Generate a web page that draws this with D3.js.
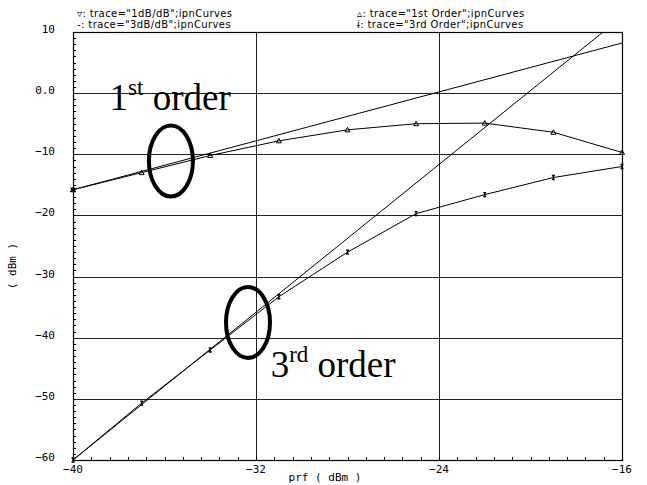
<!DOCTYPE html>
<html>
<head>
<meta charset="utf-8">
<script src="https://cdn.jsdelivr.net/npm/d3@7"></script>
<style>
  html, body { margin: 0; padding: 0; background: #fff; }
  svg { display: block; }
  .tick-label { font-family: "DejaVu Sans Mono", monospace; font-size: 11px; fill: #000; }
  .legend { font-family: "DejaVu Sans", sans-serif; font-size: 10px; letter-spacing: 0.4px; fill: #000; }
  .note { font-family: "Liberation Serif", "Times New Roman", serif; fill: #000; }
</style>
</head>
<body>
<svg id="chart" width="647" height="485"></svg>
<script>
// Input power sweep (dBm)
const prf = [-40, -37, -34, -31, -28, -25, -22, -19, -16];
// Fundamental (1st order) output power, dBm
const firstOrder = [-15.8, -13.0, -10.2, -7.8, -6.0, -5.0, -4.9, -6.4, -9.7];
// Third-order intermod output power, dBm
const thirdOrder = [-60.0, -50.7, -42.0, -33.3, -26.0, -19.7, -16.6, -13.8, -12.0];
// Extrapolated 1 dB/dB and 3 dB/dB lines (end points)
const lineX = [-40, -16];
const line1dB = [-15.8, 8.2];
const line3dB = [-60.0, 12.5];

const xTicks = [-40, -32, -24, -16];
const yTicks = [10, 0, -10, -20, -30, -40, -50, -60];
const yTickText = ["10", "0.0", "\u221210", "\u221220", "\u221230", "\u221240", "\u221250", "\u221260"];
const xTickText = ["\u221240", "\u221232", "\u221224", "\u221216"];

const legendItems = [
  { sym: "\u25BF", text: 'trace="1dB/dB";ipnCurves', col: 0, row: 0 },
  { sym: "-", text: 'trace="3dB/dB";ipnCurves', col: 0, row: 1 },
  { sym: "\u25B5", text: 'trace="1st Order";ipnCurves', col: 1, row: 0 },
  { sym: "\u0268", text: 'trace="3rd Order";ipnCurves', col: 1, row: 1 }
];

const svg = d3.select("#chart");
const pLeft = 73, pRight = 622, pTop = 32, pBottom = 460;
const x = d3.scaleLinear().domain([-40, -16]).range([pLeft, pRight]);
const y = d3.scaleLinear().domain([-60, 10]).range([pBottom, pTop]);

// clip region for the plot
svg.append("defs").append("clipPath").attr("id", "plotClip")
  .append("rect").attr("x", pLeft).attr("y", pTop)
  .attr("width", pRight - pLeft).attr("height", pBottom - pTop);

// grid lines
const grid = svg.append("g").attr("stroke", "#222").attr("stroke-width", 1);
yTicks.filter(v => v > -60 && v < 10).forEach(v => {
  grid.append("line").attr("x1", pLeft).attr("x2", pRight)
    .attr("y1", Math.round(y(v)) + 0.5).attr("y2", Math.round(y(v)) + 0.5);
});
xTicks.filter(v => v > -40 && v < -16).forEach(v => {
  grid.append("line").attr("y1", pTop).attr("y2", pBottom)
    .attr("x1", Math.round(x(v)) + 0.5).attr("x2", Math.round(x(v)) + 0.5);
});

// frame
svg.append("rect").attr("x", pLeft + 0.5).attr("y", pTop + 0.5)
  .attr("width", pRight - pLeft).attr("height", pBottom - pTop)
  .attr("fill", "none").attr("stroke", "#000").attr("stroke-width", 1.2);

// minor ticks (inside)
const minor = svg.append("g").attr("stroke", "#000").attr("stroke-width", 1);
d3.range(-60, 10.001, 1).forEach(v => {
  minor.append("line").attr("x1", pLeft).attr("x2", pLeft + 3)
    .attr("y1", Math.round(y(v)) + 0.5).attr("y2", Math.round(y(v)) + 0.5);
});
d3.range(-40, -15.99, 0.8).forEach(v => {
  minor.append("line").attr("y1", pBottom).attr("y2", pBottom - 3)
    .attr("x1", Math.round(x(v)) + 0.5).attr("x2", Math.round(x(v)) + 0.5);
});

// tick labels
svg.append("g").selectAll("text").data(yTicks).join("text")
  .attr("class", "tick-label")
  .attr("x", 55).attr("y", d => y(d) - 2)
  .attr("text-anchor", "end").attr("dominant-baseline", "middle")
  .text((d, i) => yTickText[i]);
svg.append("g").selectAll("text").data(xTicks).join("text")
  .attr("class", "tick-label")
  .attr("x", d => x(d)).attr("y", 473)
  .attr("text-anchor", "middle")
  .text((d, i) => xTickText[i]);

// axis titles
svg.append("text").attr("class", "tick-label").attr("font-size", 10)
  .attr("x", 325).attr("y", 481).attr("text-anchor", "middle")
  .text("prf ( dBm )");
svg.append("text").attr("class", "tick-label").attr("font-size", 10)
  .attr("transform", "translate(16,266) rotate(-90)")
  .attr("text-anchor", "middle").text("( dBm )");

// legend
const lg = svg.append("g");
legendItems.forEach(it => {
  lg.append("text").attr("class", "legend")
    .attr("x", it.col === 0 ? 77 : 357).attr("y", it.row === 0 ? 17 : 28)
    .text(it.sym + ": " + it.text);
});

// data lines
const plot = svg.append("g").attr("clip-path", "url(#plotClip)");
const line = d3.line().x(d => x(d[0])).y(d => y(d[1]));
const draw = (xs, ys) => plot.append("path")
  .attr("d", line(xs.map((v, i) => [v, ys[i]])))
  .attr("fill", "none").attr("stroke", "#000").attr("stroke-width", 1);
draw(lineX, line1dB);
draw(lineX, line3dB);
draw(prf, firstOrder);
draw(prf, thirdOrder);

// markers
const mk = svg.append("g").attr("fill", "none").attr("stroke", "#000").attr("stroke-width", 1);
prf.forEach((v, i) => {
  const px = x(v), py = y(firstOrder[i]);
  mk.append("path").attr("d", `M${px - 2.5},${py + 2}L${px},${py - 2.5}L${px + 2.5},${py + 2}Z`);
});
prf.forEach((v, i) => {
  const px = x(v), py = y(thirdOrder[i]);
  mk.append("path").attr("stroke-width", 1.4)
    .attr("d", `M${px},${py - 2.5}V${py + 2.5}M${px - 1.5},${py - 2}H${px + 1.5}M${px - 1.5},${py + 2}H${px + 1.5}`);
});
// start marker of 1 dB/dB line
mk.append("path").attr("stroke-width", 1.4)
  .attr("d", `M${x(-40) - 2.5},${y(line1dB[0]) - 2}L${x(-40) + 2.5},${y(line1dB[0]) + 2}M${x(-40) - 2.5},${y(line1dB[0]) + 2}L${x(-40) + 2.5},${y(line1dB[0]) - 2}`);

// annotations
const notes = [
  { cx: -35.72, cy: -11.1, tx: -38.4, ty: -2.76, num: "1", sup: "st" },
  { cx: -32.35, cy: -37.5, tx: -31.36, ty: -46.5, num: "3", sup: "rd" }
];
notes.forEach(n => {
  svg.append("ellipse").attr("cx", x(n.cx)).attr("cy", y(n.cy))
    .attr("rx", 22).attr("ry", 35.5)
    .attr("fill", "none").attr("stroke", "#000").attr("stroke-width", 4);
  const t = svg.append("text").attr("class", "note")
    .attr("x", x(n.tx)).attr("y", y(n.ty)).attr("font-size", 37);
  t.append("tspan").text(n.num);
  t.append("tspan").attr("font-size", 23).attr("dy", -15).text(n.sup);
  t.append("tspan").attr("dy", 15).text(" order");
});
</script>
</body>
</html>
